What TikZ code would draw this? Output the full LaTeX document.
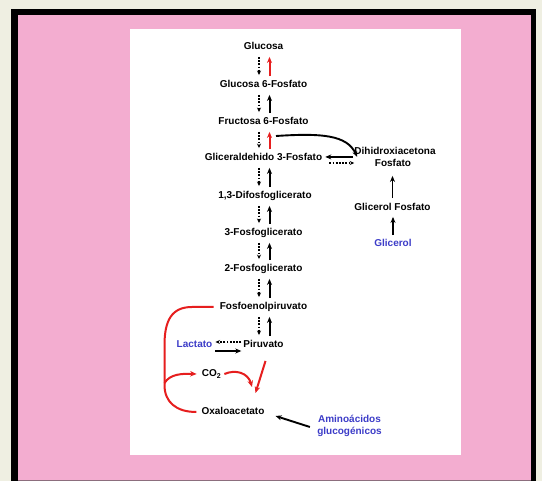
\documentclass[tikz,border=0pt]{standalone}
\usepackage{fontspec}
\setmainfont{Liberation Sans}
\usetikzlibrary{arrows.meta}
\definecolor{cream}{RGB}{239,239,226}
\definecolor{pinkbg}{RGB}{243,173,208}
\definecolor{myred}{RGB}{230,30,30}
\definecolor{myblue}{RGB}{60,60,200}
\definecolor{edgegray}{RGB}{140,110,125}
\begin{document}
\begin{tikzpicture}[x=1pt,y=-1pt,
  lbl/.style={font=\fontsize{10}{12}\selectfont\bfseries, inner sep=1pt, text height=7.5pt, text depth=2pt},
  bl/.style={lbl, text=myblue},
  up/.style={draw=black, line width=1.9pt, -{Stealth[length=6pt,width=5pt]}},
  dn/.style={draw=black, line width=1.1pt, dash pattern=on 1.8pt off 1.4pt, -{Stealth[length=4.5pt,width=4pt]}},
  rd/.style={draw=myred, line width=2pt},
  rda/.style={rd, -{Stealth[length=6.5pt,width=5.5pt]}},
]
\useasboundingbox (0,0) rectangle (542,481);
\fill[cream] (0,0) rectangle (542,481);
\fill[black] (11,9) rectangle (536,481);
\fill[pinkbg] (18,15) rectangle (531,480);
\draw[edgegray, line width=0.8pt] (18,480.6) -- (531,480.6);
\fill[white] (130,29) rectangle (461,455);

% main column
\node[lbl] (glc) at (263.5,47)  {Glucosa};
\node[lbl] (g6p) at (263.5,85)  {Glucosa 6-Fosfato};
\node[lbl] (f6p) at (263.5,122) {Fructosa 6-Fosfato};
\node[lbl] (g3p) at (263.5,158) {Gliceraldehido 3-Fosfato};
\node[lbl] (dpg) at (265,196)   {1,3-Difosfoglicerato};
\node[lbl] (pg3) at (263.5,233) {3-Fosfoglicerato};
\node[lbl] (pg2) at (263.5,269) {2-Fosfoglicerato};
\node[lbl] (pep) at (263.5,307) {Fosfoenolpiruvato};
\node[lbl] (pyr) at (263.5,345) {Piruvato};
\node[bl]  (lac) at (194.5,345) {Lactato};
\node[lbl] (co2) at (211.5,374) {CO\textsubscript{2}};
\node[lbl] (oxa) at (233,412)   {Oxaloacetato};
\node[bl]  (ami1) at (349.5,420) {Aminoácidos};
\node[bl]  (ami2) at (349.5,432) {glucogénicos};

% right column
\node[lbl] (dha1) at (395,152) {Dihidroxiacetona};
\node[lbl] (dha2) at (393,164) {Fosfato};
\node[lbl] (gf)   at (392.5,208) {Glicerol Fosfato};
\node[bl]  (gli)  at (393,244) {Glicerol};

% vertical pairs of arrows
\foreach \a/\b/\c in {glc/g6p/myred, g6p/f6p/black, f6p/g3p/myred, g3p/dpg/black, dpg/pg3/black, pg3/pg2/black, pg2/pep/black, pep/pyr/black} {
  \draw[dn, shorten <=4pt, shorten >=4pt] (259,0 |- \a.south) -- (259,0 |- \b.north);
  \draw[up, draw=\c, line width=2pt, shorten <=3pt, shorten >=4pt] (269.5,0 |- \b.north) -- (269.5,0 |- \a.south);
}

% fructose -> DHAP curved arrow
\coordinate (f6pout) at (276,136);
\draw[up] (f6pout) .. controls (322,133) and (347,135) .. ([xshift=4pt,yshift=1pt]dha1.south west);

% DHAP <-> G3P
\draw[up] ([yshift=1pt]dha1.south west) -- ([xshift=2pt,yshift=1pt]dha1.south west -| g3p.east);
\draw[dn] ([xshift=6pt,yshift=-5pt]g3p.east) -- ([xshift=1pt,yshift=-5pt]g3p.east -| dha1.west);

% right column arrows
\draw[up, shorten <=4pt, shorten >=6pt] (gf.north) -- (gf.north |- dha2.south);
\draw[up, shorten <=3pt, shorten >=3pt] (gli.north) -- (gli.north |- gf.south);

% lactate <-> pyruvate
\draw[dn] ([xshift=-1pt,yshift=3pt]pyr.west) -- ([xshift=2pt,yshift=3pt]lac.east);
\draw[up] ([xshift=2pt,yshift=-6pt]lac.east) -- ([xshift=-1pt,yshift=-6pt]pyr.west);

% red bracket and branches
\coordinate (br) at (164.5,383);
\coordinate (oxin) at (255.5,393);
\draw[rd] ([xshift=-5pt]pep.west) -- (192,307) .. controls (172,307) and (164.5,320) .. (164.5,345)
  -- (164.5,385) .. controls (164.5,402) and (176,412) .. ([xshift=-4pt]oxa.west);
\draw[rda] (br) .. controls (170,374) and (182,373.5) .. ([xshift=-4pt]co2.west);
\draw[rda] ([xshift=2pt]co2.east) .. controls (236,369) and (248,373) .. (252,387);
\draw[rda] ([xshift=2pt,yshift=-10pt]pyr.south) -- (oxin);

% amino acids arrow
\draw[up] ([xshift=-7pt,yshift=-7pt]ami1.west) -- ([xshift=10pt,yshift=-4pt]oxa.east);
\end{tikzpicture}
\end{document}
